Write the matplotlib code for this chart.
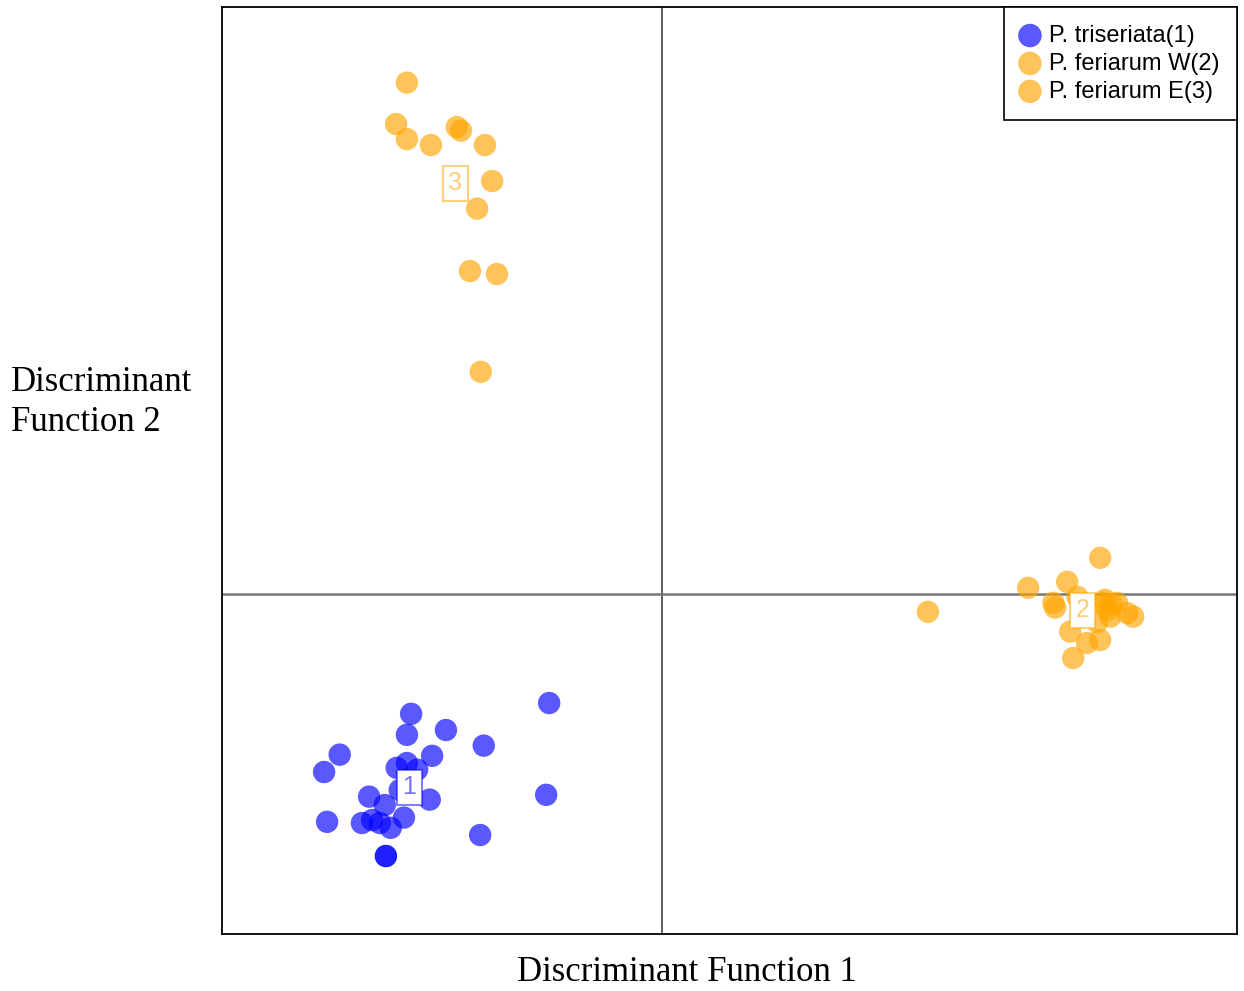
import numpy as np
import matplotlib
matplotlib.use('Agg')
from matplotlib import pyplot as plt

# discriminant scores (LD1, LD2)
tri_x = [-1.88, -4.18, -4.25, -3.60, -2.97, -5.37, -5.63, -3.83, -4.42, -4.25, -4.08, -1.93,
         -3.87, -4.88, -4.62, -5.58, -5.00, -4.83, -4.70, -4.52, -4.30, -3.03, -4.60, -4.60, -4.37]
tri_y = [-1.82, -2.00, -2.35, -2.27, -2.53, -2.68, -2.97, -2.70, -2.90, -2.82, -2.93, -3.35,
         -3.43, -3.38, -3.52, -3.80, -3.82, -3.77, -3.82, -3.90, -3.73, -4.02, -4.37, -4.37, -3.27]

ferW_x = [4.43, 6.10, 6.75, 7.30, 6.52, 6.55, 6.92, 6.80, 7.08, 7.30, 6.85, 7.35, 7.42, 7.47,
          7.58, 7.75, 7.85, 7.25, 7.38, 7.50]
ferW_y = [-0.30, 0.10, 0.20, 0.60, -0.15, -0.23, -0.05, -0.63, -0.82, -0.77, -1.07, -0.15,
          -0.27, -0.38, -0.15, -0.32, -0.38, -0.47, -0.10, -0.18]

ferE_x = [-4.25, -4.43, -4.25, -3.85, -3.42, -3.35, -2.95, -2.83, -3.08, -3.20, -2.75, -3.02]
ferE_y = [8.52, 7.83, 7.58, 7.48, 7.78, 7.72, 7.48, 6.88, 6.42, 5.38, 5.33, 3.70]

groups = [
    ('P. triseriata(1)', '1', tri_x, tri_y, 'blue'),
    ('P. feriarum W(2)', '2', ferW_x, ferW_y, 'orange'),
    ('P. feriarum E(3)', '3', ferE_x, ferE_y, 'orange'),
]

fig = plt.figure(figsize=(12.44, 9.91), dpi=100)
ax = fig.add_axes([0.1785, 0.0575, 0.8159, 0.9354])

ax.axvline(0, color='#444444', lw=1.2, zorder=1)
ax.axhline(0, color='#777777', lw=1.8, zorder=1)

for name, tag, xs, ys, col in groups:
    ax.scatter(xs, ys, s=260, color=col, alpha=0.65, edgecolors='none', label=name, zorder=2)

# group centroids with number boxes
for name, tag, xs, ys, col in groups:
    cx, cy = np.mean(xs), np.mean(ys)
    ax.text(cx, cy, tag, ha='center', va='center', fontsize=18, family='Liberation Sans',
            color=matplotlib.colors.to_rgba(col, 0.55), zorder=3,
            bbox=dict(boxstyle='square,pad=0.22', fc='white',
                      ec=matplotlib.colors.to_rgba(col, 0.5), lw=1.5))

ax.set_xlim(-7.33, 9.58)
ax.set_ylim(-5.67, 9.78)
ax.set_xticks([])
ax.set_yticks([])
for sp in ax.spines.values():
    sp.set_linewidth(1.3)

leg = ax.legend(loc='upper right', borderaxespad=0, fancybox=False, framealpha=1,
                edgecolor='black', prop={'family': 'Liberation Sans', 'size': 17},
                handletextpad=0.45, labelspacing=0.25, borderpad=0.75, handlelength=0.7,
                scatterpoints=1, markerscale=1.05)
leg.get_frame().set_linewidth(1.2)

fig.text(0.552, 0.019, 'Discriminant Function 1', ha='center', va='center',
         family='Liberation Serif', fontsize=25)
fig.text(0.009, 0.594, 'Discriminant\nFunction 2', ha='left', va='center',
         family='Liberation Serif', fontsize=25, linespacing=1.3)

fig.savefig('out.png', dpi=100)
